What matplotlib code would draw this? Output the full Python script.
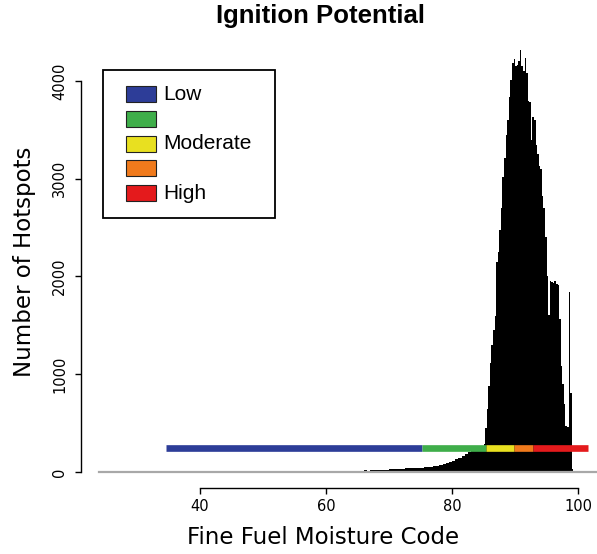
import numpy as np
import matplotlib
matplotlib.use('Agg')
import matplotlib.pyplot as plt
from matplotlib.patches import Rectangle

# histogram of hotspots by FFMC
# tail: 0.5 wide bins from 55 to 85
tail_left = np.arange(55.0, 85.0, 0.5)
tail_counts = [3, 0, 4, 8, 5, 10, 6, 4, 12, 6,
               8, 5, 10, 7, 9, 12, 8, 14, 10, 12,
               15, 11, 16, 14, 18, 20, 17, 22, 25, 22,
               26, 28, 30, 27, 32, 36, 40, 38, 42, 45,
               44, 50, 48, 55, 60, 64, 72, 85, 95, 105,
               115, 128, 140, 165, 180, 205, 230, 215, 240, 260]
# main body: 0.25 wide bins from 85 to 99.25
body_left = np.arange(85.0, 99.25, 0.25)
body_counts = [290, 450, 640, 880, 1110, 1300, 1450, 1600, 2150, 2250,
               2480, 2700, 3020, 3210, 3450, 3600, 3840, 4010, 4180, 4220,
               4150, 4160, 4200, 4320, 4150, 4100, 4230, 4080, 3800, 3780,
               3400, 3630, 3600, 3350, 3250, 3130, 3100, 2820, 2700, 2400,
               2000, 1610, 1950, 1940, 1930, 1950, 1920, 1910, 1560, 1080,
               900, 700, 470, 460, 1845, 805, 30]

# ignition potential classes along the FFMC axis
class_labels = ['Low', '', 'Moderate', '', 'High']
class_edges = [34.6, 75.3, 85.4, 89.9, 92.8, 101.5]
class_colors = ['#2d3d98', '#3fae4a', '#e8e020', '#f07a1c', '#e41a1c']
bar_level = 250

fig = plt.figure(figsize=(5.97, 5.54), dpi=100)
ax = fig.add_axes([81/597, 66/554, 516/597, 443/554])

ax.bar(tail_left, tail_counts, width=0.5, align='edge', color='black', linewidth=0)
ax.bar(body_left, body_counts, width=0.25, align='edge', color='black', linewidth=0)

ax.plot([24, 103], [0, 0], color='#a8a8a8', lw=1.6, zorder=1)

for i in range(len(class_colors)):
    ax.plot([class_edges[i], class_edges[i+1]], [bar_level, bar_level],
            color=class_colors[i], lw=4.8, solid_capstyle='butt', zorder=4)

ax.set_xlim(21.11, 103.0)
ax.set_ylim(-163.7, 4368)
ax.set_xticks([40, 60, 80, 100])
ax.set_yticks([0, 1000, 2000, 3000, 4000])
ax.spines['top'].set_visible(False)
ax.spines['right'].set_visible(False)
ax.spines['left'].set_bounds(0, 4000)
ax.spines['bottom'].set_bounds(40, 100)
for s in ['left', 'bottom']:
    ax.spines[s].set_linewidth(1.0)
ax.tick_params(axis='both', length=4, width=1.0, labelsize=10.5)
ax.tick_params(axis='x', pad=4)
ax.tick_params(axis='y', pad=6)
for lab in ax.get_yticklabels():
    lab.set_rotation(90)
    lab.set_va('center')

ax.set_xlabel('Fine Fuel Moisture Code', fontsize=16.5, va='center')
ax.xaxis.set_label_coords(323/597, 1 - 537/554, transform=fig.transFigure)
ax.set_ylabel('Number of Hotspots', fontsize=16.5, va='center')
ax.yaxis.set_label_coords(25/597, 1 - 262/554, transform=fig.transFigure)

fig.text(320/597, 1 - 16/554, 'Ignition Potential', ha='center', va='center',
         fontsize=18.5, fontweight='bold',
         family=['Liberation Sans', 'DejaVu Sans'])

# legend drawn in figure pixels
def fx(px):
    return px / 597

def fy(py):
    return 1 - py / 554

fig.patches.append(Rectangle((fx(103), fy(218)), fx(275) - fx(103), fy(70) - fy(218),
                             transform=fig.transFigure, fill=False, edgecolor='black',
                             linewidth=1.3))
row_y = [94, 119, 144, 168, 193]
for i in range(len(class_labels)):
    fig.patches.append(Rectangle((fx(126), fy(row_y[i] + 8)), fx(156) - fx(126), fy(row_y[i] - 8) - fy(row_y[i] + 8),
                                 transform=fig.transFigure, facecolor=class_colors[i],
                                 edgecolor='#222222', linewidth=0.8))
    fig.text(fx(163), fy(row_y[i]), class_labels[i], ha='left', va='center',
             fontsize=15, family=['Liberation Sans', 'DejaVu Sans'])

fig.savefig('out.png', dpi=100)
